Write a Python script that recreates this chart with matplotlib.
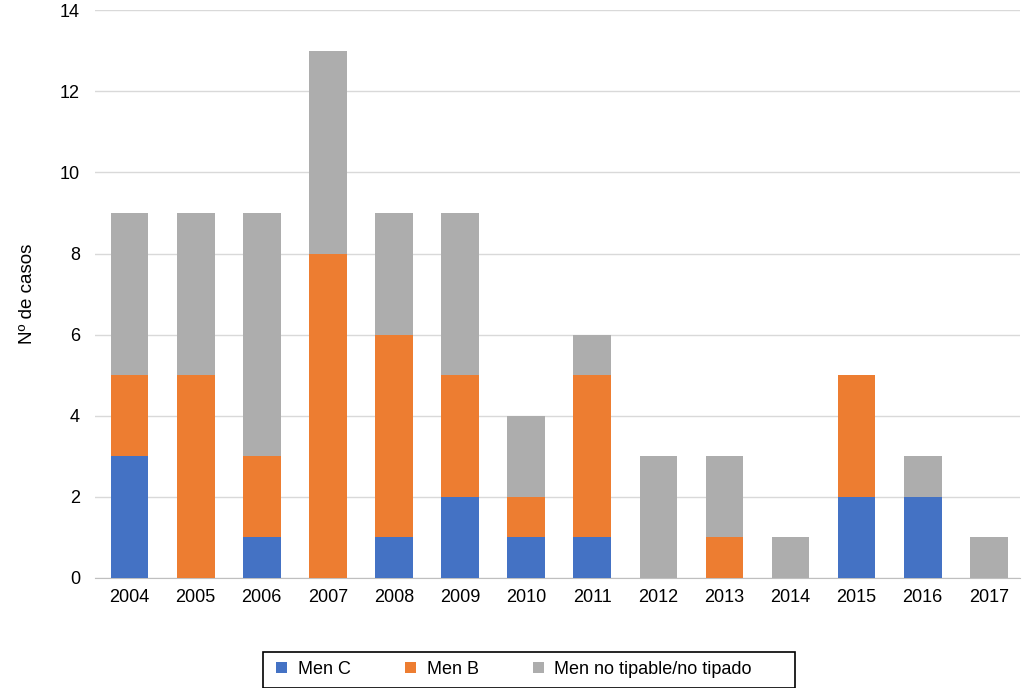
import matplotlib.pyplot as plt
from matplotlib.patches import Rectangle
import numpy as np

plt.rcParams['font.family'] = ['Liberation Sans', 'DejaVu Sans']

# Data
years = ["2004", "2005", "2006", "2007", "2008", "2009", "2010",
         "2011", "2012", "2013", "2014", "2015", "2016", "2017"]
men_c = [3, 0, 1, 0, 1, 2, 1, 1, 0, 0, 0, 2, 2, 0]
men_b = [2, 5, 2, 8, 5, 3, 1, 4, 0, 1, 0, 3, 0, 0]
men_nt = [4, 4, 6, 5, 3, 4, 2, 1, 3, 2, 1, 0, 1, 1]

fig = plt.figure(figsize=(10.24, 6.88), dpi=100)
ax = fig.add_axes([0.093, 0.16, 0.903, 0.825])

x = np.arange(len(years))
w = 0.57
c = np.array(men_c)
b = np.array(men_b)
n = np.array(men_nt)

ax.bar(x, c, w, color="#4472C4", label="Men C", zorder=3)
ax.bar(x, b, w, bottom=c, color="#ED7D31", label="Men B", zorder=3)
ax.bar(x, n, w, bottom=c + b, color="#ADADAD", label="Men no tipable/no tipado", zorder=3)

ax.set_xlim(-0.52, 13.47)
ax.set_ylim(0, 14)
ax.set_yticks(range(0, 15, 2))
ax.set_xticks(x)
ax.set_xticklabels(years)
ax.yaxis.grid(True, color="#D9D9D9", linewidth=1, zorder=0)
ax.tick_params(axis="both", length=0, labelsize=13, colors="#000000")
ax.tick_params(axis="x", pad=8)
ax.tick_params(axis="y", pad=11)
for s in ["top", "right", "left"]:
    ax.spines[s].set_visible(False)
ax.spines["bottom"].set_color("#BFBFBF")

ax.set_ylabel("Nº de casos", fontsize=13.5, labelpad=17)

# legend without its own frame, box drawn separately (Excel-style padding)
leg = fig.legend(loc="center", bbox_to_anchor=(0.502, 0.027), ncol=3,
                 fontsize=13, frameon=False, handlelength=0.6, handleheight=0.6,
                 handletextpad=0.6, columnspacing=3.0)
fig.patches.append(Rectangle((263 / 1024, 0.0), 532 / 1024, 36 / 688,
                             transform=fig.transFigure, fill=False,
                             edgecolor="#000000", linewidth=1.2))

fig.savefig("out.png", dpi=100)
